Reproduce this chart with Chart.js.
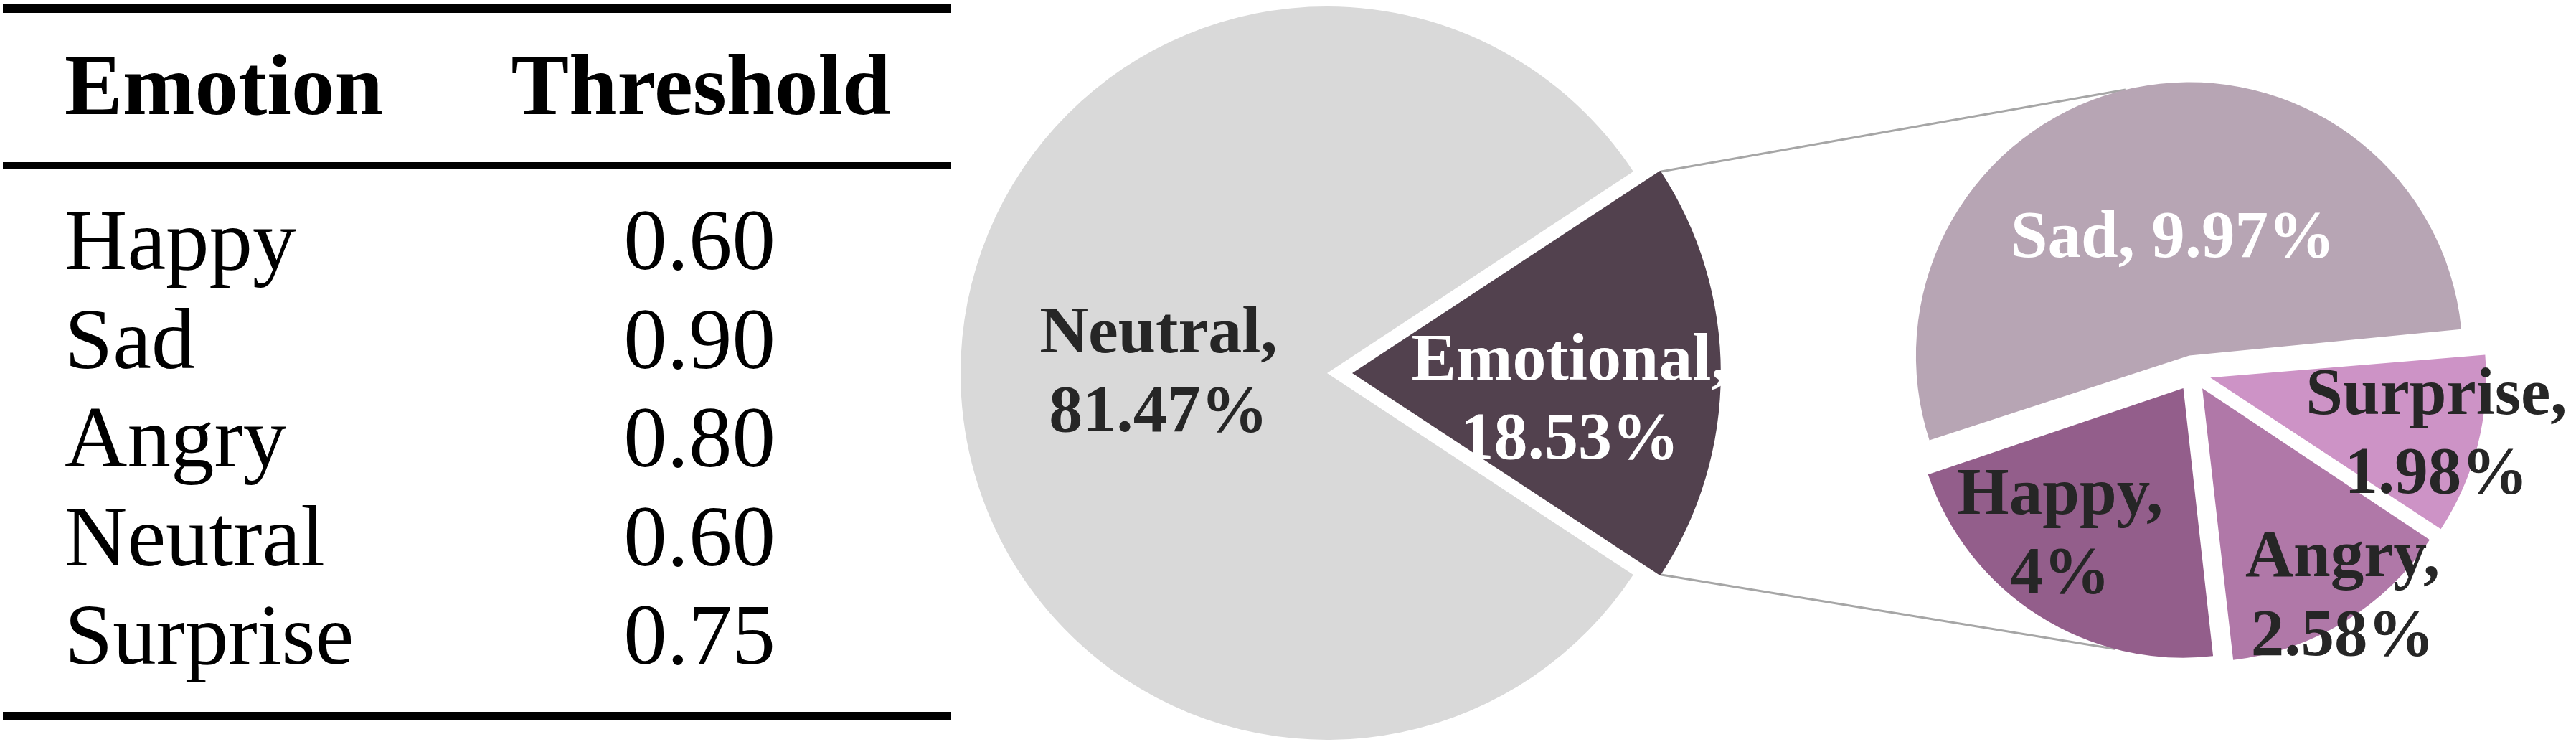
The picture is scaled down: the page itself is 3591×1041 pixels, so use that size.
<!DOCTYPE html>
<html>
<head>
<meta charset="utf-8">
<script src="https://cdn.jsdelivr.net/npm/chart.js@4.4.0/dist/chart.umd.min.js"></script>
<style>
  html, body { margin: 0; padding: 0; background: #fff; }
  #page { position: relative; width: 3591px; height: 1041px; overflow: hidden;
          font-family: 'Liberation Serif', 'Times New Roman', serif; }
  canvas { position: absolute; left: 0; top: 0; }
  .rule { position: absolute; left: 4px; width: 1322px; background: #000; }
  .cell { position: absolute; font-size: 121px; line-height: 121px; white-space: nowrap; color: #000; }
  .head { font-weight: bold; }
</style>
</head>
<body>
<div id="page">
  <div id="table"></div>
  <canvas id="mainPie" width="3591" height="1041"></canvas>
  <canvas id="sadPie" width="3591" height="1041"></canvas>
  <canvas id="restPie" width="3591" height="1041"></canvas>
</div>
<script>
(() => {
  'use strict';

  // Table
  const tableHeader = ['Emotion', 'Threshold'];
  const emotions = ['Happy', 'Sad', 'Angry', 'Neutral', 'Surprise'];
  const thresholds = ['0.60', '0.90', '0.80', '0.60', '0.75'];

  // Main pie (%)
  const mainLabels = ['Neutral', 'Emotional'];
  const mainValues = [81.47, 18.53];

  // Breakdown of the emotional part (%)
  const subLabels = ['Sad', 'Surprise', 'Angry', 'Happy'];
  const subValues = [9.97, 1.98, 2.58, 4];

  const mainColors = ['#d9d9d9', '#52414e'];
  const subColors = ['#b7a5b4', '#cd93c6', '#b078a8', '#935e8b'];
  const darkText = '#262626';
  const FONT = '"Liberation Serif", "Times New Roman", serif';

  // --- table as html ---
  const table = document.getElementById('table');

  function addRule(top, h) {
    const d = document.createElement('div');
    d.className = 'rule';
    d.style.top = top + 'px';
    d.style.height = h + 'px';
    table.appendChild(d);
  }

  function addCell(text, baseline, x, centered, bold) {
    const d = document.createElement('div');
    d.className = 'cell' + (bold ? ' head' : '');
    d.textContent = text;
    d.style.top = (baseline - 101) + 'px';
    d.style.left = x + 'px';
    if (centered) d.style.transform = 'translateX(-50%)';
    table.appendChild(d);
  }

  addRule(6, 12);
  addRule(226, 9);
  addRule(992, 12);
  addCell(tableHeader[0], 159, 90, false, true);
  addCell(tableHeader[1], 159, 977, true, true);
  emotions.forEach((e, i) => {
    const base = 375 + i * 137.5;
    addCell(e, base, 90, false, false);
    addCell(thresholds[i], base, 975, true, false);
  });

  // --- helpers ---
  function apexOf(arc) {
    const mid = (arc.startAngle + arc.endAngle) / 2;
    const shift = (arc.options.offset || 0) / 4;
    return { x: arc.x + Math.cos(mid) * shift, y: arc.y + Math.sin(mid) * shift, mid, shift };
  }

  // labels inside slices
  const sliceLabels = {
    id: 'sliceLabels',
    afterDatasetsDraw(chart, args, opts) {
      const ctx = chart.ctx;
      const arcs = chart.getDatasetMeta(0).data;
      ctx.save();
      ctx.font = `bold ${opts.size}px ${FONT}`;
      ctx.textAlign = 'center';
      ctx.textBaseline = 'alphabetic';
      const cap = opts.size * 0.66;
      opts.items.forEach(item => {
        const p = apexOf(arcs[item.index]);
        const a = p.mid + item.turn * Math.PI / 180;
        const cx = p.x + Math.cos(a) * item.dist * opts.radius;
        const cy = p.y + Math.sin(a) * item.dist * opts.radius;
        ctx.fillStyle = item.color;
        item.lines.forEach((t, i) => {
          const y = cy + (i - (item.lines.length - 1) / 2) * opts.lineHeight + cap / 2;
          ctx.fillText(t, cx, y);
        });
      });
      ctx.restore();
    }
  };

  const twoLines = (name, v) => [name + ',', v + '%'];

  // --- breakdown pie: drawn in two layers so every slice keeps the same radius ---
  const subRotation = 251.35;
  const subPadding = { left: 2523, right: 0, top: 0, bottom: 1 };

  function subChart(id, showSad, radius, items) {
    return new Chart(document.getElementById(id), {
      type: 'pie',
      data: {
        labels: subLabels,
        datasets: [{
          data: subValues,
          backgroundColor: subColors.map((c, i) => ((i === 0) === showSad ? c : 'rgba(0,0,0,0)')),
          borderWidth: 0,
          offset: 100
        }]
      },
      options: {
        responsive: false,
        animation: false,
        events: [],
        rotation: subRotation,
        radius: radius,
        layout: { padding: subPadding },
        plugins: {
          legend: { display: false },
          tooltip: { enabled: false },
          sliceLabels: { size: 93, lineHeight: 110, radius: 381, items: items }
        }
      },
      plugins: [sliceLabels]
    });
  }

  const sadChart = subChart('sadPie', true, 356, [
    { index: 0, lines: [subLabels[0] + ', ' + subValues[0] + '%'], dist: 0.445, turn: 4, color: '#ffffff' }
  ]);

  const restChart = subChart('restPie', false, 375, [
    { index: 1, lines: twoLines(subLabels[1], subValues[1]), dist: 0.85, turn: -0.9, color: darkText },
    { index: 2, lines: twoLines(subLabels[2], subValues[2]), dist: 0.91, turn: -2.9, color: darkText },
    { index: 3, lines: twoLines(subLabels[3], subValues[3]), dist: 0.69, turn: 8.3, color: darkText }
  ]);

  // connector lines from the emotional slice to the breakdown pie
  const connectors = {
    id: 'connectors',
    afterDatasetsDraw(chart, args, opts) {
      const ctx = chart.ctx;
      const emo = chart.getDatasetMeta(0).data[1];
      const e = apexOf(emo);
      const er = emo.outerRadius;
      const ends = opts.targets.map(t => {
        const arc = t.chart.getDatasetMeta(0).data[t.index];
        const p = apexOf(arc);
        const circ = arc.endAngle - arc.startAngle;
        const r = arc.outerRadius + p.shift * (1 - Math.sin(Math.min(Math.PI, circ)));
        const a = t.angle * Math.PI / 180;
        return { x: p.x + Math.cos(a) * r, y: p.y + Math.sin(a) * r };
      });
      const starts = [emo.startAngle, emo.endAngle].map(a => ({
        x: e.x + Math.cos(a) * er + 4, y: e.y + Math.sin(a) * er
      }));
      ctx.save();
      ctx.strokeStyle = opts.color;
      ctx.lineWidth = opts.width;
      starts.forEach((s, i) => {
        ctx.beginPath();
        ctx.moveTo(s.x, s.y);
        ctx.lineTo(ends[i].x, ends[i].y);
        ctx.stroke();
      });
      ctx.restore();
    }
  };

  // --- main pie ---
  const emoShare = mainValues[1] / (mainValues[0] + mainValues[1]);

  new Chart(document.getElementById('mainPie'), {
    type: 'pie',
    data: {
      labels: mainLabels,
      datasets: [{
        data: mainValues,
        backgroundColor: mainColors,
        borderWidth: 0,
        offset: [0, 140]
      }]
    },
    options: {
      responsive: false,
      animation: false,
      events: [],
      rotation: 90 + emoShare * 180, // emotional slice centred on the right
      radius: 511,
      layout: { padding: { left: 1300, right: 1191, top: 0, bottom: 1 } },
      plugins: {
        legend: { display: false },
        tooltip: { enabled: false },
        sliceLabels: {
          size: 94, lineHeight: 110, radius: 511,
          items: [
            { index: 0, lines: twoLines(mainLabels[0], mainValues[0]), dist: 0.46, turn: 1.3, color: darkText },
            { index: 1, lines: twoLines(mainLabels[1], mainValues[1]), dist: 0.597, turn: 6.3, color: '#ffffff' }
          ]
        },
        connectors: {
          color: '#a6a6a6',
          width: 3,
          targets: [
            { chart: sadChart, index: 0, angle: 256.5 },
            { chart: restChart, index: 3, angle: 104.6 }
          ]
        }
      }
    },
    plugins: [sliceLabels, connectors]
  });
})();
</script>
</body>
</html>
